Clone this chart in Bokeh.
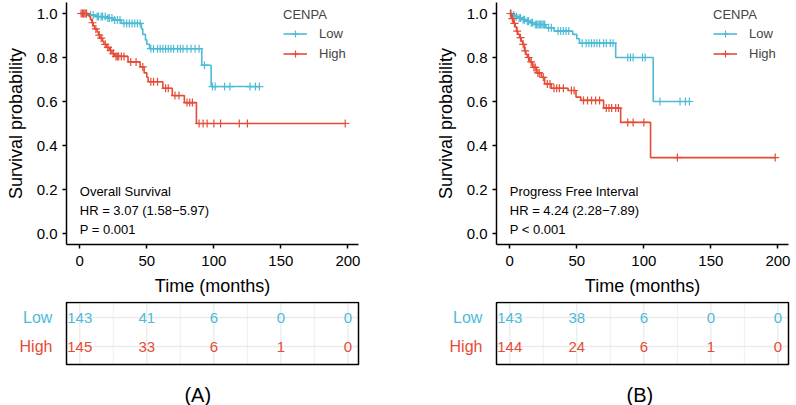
import numpy as np
from bokeh.plotting import figure
from bokeh.layouts import row, column
from bokeh.models import Legend, LegendItem, FixedTicker, PrintfTickFormatter, Range1d
from bokeh.core.properties import value
from bokeh.embed import file_html
from bokeh.resources import INLINE

BLUE = "#4DBBD5"
RED = "#E64B35"
FONT = "Liberation Sans"

groups = ["Low", "High"]
legend_title = "CENPA"

# ---- Overall survival (A) ----
os_low_time = [0, 7, 12, 20, 25, 31, 46, 47, 49, 50, 52, 91, 98, 134]
os_low_surv = [1.0, 0.993, 0.986, 0.979, 0.97, 0.955, 0.93, 0.905, 0.88, 0.86, 0.84, 0.765, 0.668, 0.668]
os_low_cens = [3, 5, 8, 10, 13, 14, 16, 17, 19, 21, 22, 24, 26, 28, 30, 33, 35, 37, 39, 41, 43, 45,
               53, 55, 58, 60, 62, 64, 66, 68, 70, 73, 75, 77, 80, 83, 86, 89, 93, 99, 101, 108, 112,
               127, 131, 134]
os_high_time = [0, 6, 7, 8, 9, 10, 11, 13, 14, 15, 17, 18, 20, 22, 24, 26, 36, 45, 48, 50, 51, 62,
                69, 78, 87, 198]
os_high_surv = [1.0, 0.993, 0.986, 0.972, 0.958, 0.944, 0.93, 0.916, 0.902, 0.888, 0.874, 0.86,
                0.846, 0.832, 0.818, 0.805, 0.78, 0.757, 0.73, 0.71, 0.69, 0.66, 0.627, 0.595, 0.5, 0.5]
os_high_cens = [1, 2, 3, 4, 5, 9.5, 12, 14.5, 16, 19, 21, 23, 25, 27, 28, 29, 31, 33, 38, 42, 47,
                53, 55, 58, 64, 66, 71, 74, 80, 82, 84, 89, 92, 95, 100, 105, 119, 125, 198]
os_notes = ["Overall Survival", "HR = 3.07 (1.58\u22125.97)", "P = 0.001"]
os_risk_low = [143, 41, 6, 0, 0]
os_risk_high = [145, 33, 6, 1, 0]

# ---- Progress free interval (B) ----
pfi_low_time = [0, 2, 4, 6, 9, 12, 15, 18, 27, 33, 47, 50, 52, 79, 107, 134]
pfi_low_surv = [1.0, 0.993, 0.986, 0.979, 0.972, 0.965, 0.958, 0.95, 0.935, 0.92, 0.905, 0.885,
                0.865, 0.80, 0.60, 0.60]
pfi_low_cens = [1, 3, 5, 7, 8, 10, 11, 13, 14, 16, 17, 19, 20, 21, 22, 23, 24, 25, 26, 29, 31, 36,
                38, 40, 42, 44, 54, 57, 59, 61, 63, 65, 67, 70, 72, 75, 77, 88, 90, 92, 99, 101,
                112, 127, 131, 134]
pfi_high_time = [0, 1, 1.5, 2.5, 3, 4, 5, 6, 7.4, 8.5, 9.6, 11, 12, 13, 15, 17, 20, 23.6, 26, 31,
                 43.5, 49.4, 53, 70, 82.7, 105, 198]
pfi_high_surv = [1.0, 0.99, 0.977, 0.966, 0.955, 0.94, 0.92, 0.905, 0.89, 0.875, 0.86, 0.83, 0.815,
                 0.80, 0.78, 0.755, 0.73, 0.71, 0.68, 0.66, 0.65, 0.62, 0.605, 0.57, 0.505, 0.345,
                 0.345]
pfi_high_cens = [0.5, 2, 3.5, 5.5, 8, 10, 11.5, 14, 16, 18, 19, 21, 22, 25, 28, 30, 33, 35, 37, 40,
                 46, 48, 55, 58, 61, 64, 67, 72, 74, 76, 79, 81, 88, 92, 100, 125, 198]
pfi_notes = ["Progress Free Interval", "HR = 4.24 (2.28\u22127.89)", "P < 0.001"]
pfi_risk_low = [143, 38, 6, 0, 0]
pfi_risk_high = [144, 24, 6, 1, 0]

risk_times = [0, 50, 100, 150, 200]
x_ticks = [0, 50, 100, 150, 200]
y_ticks = [0.0, 0.2, 0.4, 0.6, 0.8, 1.0]
note_y = [0.19, 0.105, 0.018]
panel_labels = ["(A)", "(B)"]

# layout constants (pixels)
FRAME_W = 292
FRAME_H = 242
TOP_B = 2
BOTTOM_B = 57
KM_H = TOP_B + FRAME_H + BOTTOM_B
TAB_H = 405 - KM_H
XR = (-9.9, 207.9)
YR = (-0.05, 1.05)
SCALE = FRAME_W / (XR[1] - XR[0])
ROW_PX = 29.0          # pixel spacing between the two risk rows
LOW_ROW_FROM_TOP = 317 - KM_H


def surv_at(times, surv, t):
    idx = np.searchsorted(np.asarray(times), np.asarray(t, dtype=float), side="right") - 1
    return np.asarray(surv)[idx]


def km_fig(curves, notes, bl, br):
    p = figure(width=bl + FRAME_W + br, height=KM_H, x_range=Range1d(*XR), y_range=Range1d(*YR),
               output_backend="svg", toolbar_location=None, frame_align=False,
               min_border_left=bl, min_border_right=br, min_border_top=TOP_B,
               min_border_bottom=BOTTOM_B)
    p.outline_line_color = None
    p.xgrid.visible = False
    p.ygrid.visible = False
    p.background_fill_color = "white"
    p.border_fill_color = "white"
    items = []
    for name, (t, s, c, col) in zip(groups, curves):
        r1 = p.step(x=t, y=s, mode="after", line_color=col, line_width=1.6)
        r2 = p.scatter(x=c, y=surv_at(t, s, c), marker="cross", size=8, line_color=col,
                       line_width=1.2)
        items.append(LegendItem(label=name, renderers=[r1, r2]))
    p.text(x=[0, 0, 0], y=note_y, text=notes, text_font=value(FONT), text_font_size="13px",
           text_baseline="middle", text_align="left", text_color="black")
    leg = Legend(items=items, title=legend_title, location=(217, 182))
    leg.title_text_font = FONT
    leg.title_text_font_size = "13px"
    leg.title_text_font_style = "normal"
    leg.title_standoff = 3
    leg.label_text_font = FONT
    leg.label_text_font_size = "13px"
    leg.padding = 0
    leg.margin = 0
    leg.spacing = 3
    leg.glyph_width = 24
    leg.glyph_height = 17
    leg.label_height = 17
    leg.label_standoff = 12
    leg.border_line_color = None
    leg.background_fill_alpha = 0
    p.add_layout(leg)
    for ax in (p.xaxis, p.yaxis):
        ax.axis_line_width = 1.5
        ax.axis_line_color = "black"
        ax.major_tick_line_width = 1.5
        ax.major_tick_line_color = "black"
        ax.major_tick_out = 4
        ax.major_tick_in = 0
        ax.minor_tick_out = 0
        ax.minor_tick_in = 0
        ax.major_label_text_font = FONT
        ax.major_label_text_font_size = "15px"
        ax.major_label_text_color = "black"
        ax.axis_label_text_font = FONT
        ax.axis_label_text_font_size = "18px"
        ax.axis_label_text_font_style = "normal"
        ax.axis_label_text_color = "black"
    p.xaxis.ticker = FixedTicker(ticks=x_ticks)
    p.yaxis.ticker = FixedTicker(ticks=y_ticks)
    p.yaxis.formatter = PrintfTickFormatter(format="%.1f")
    p.xaxis.axis_label = "Time (months)"
    p.yaxis.axis_label = "Survival probability"
    p.yaxis.major_label_standoff = 5
    p.yaxis.axis_label_standoff = 8
    p.xaxis.major_label_standoff = 7
    p.xaxis.axis_label_standoff = 7
    return p


def table_fig(risk_low, risk_high, bl, br, label, label_x):
    x0 = XR[0] - bl / SCALE
    x1 = XR[1] + br / SCALE
    # rows: Low at y=2, High at y=1
    y1 = 2 + LOW_ROW_FROM_TOP / ROW_PX
    y0 = y1 - TAB_H / ROW_PX
    p = figure(width=bl + FRAME_W + br, height=TAB_H, x_range=Range1d(x0, x1), y_range=Range1d(y0, y1),
               output_backend="svg", toolbar_location=None, x_axis_type=None, y_axis_type=None,
               min_border=0, min_border_left=0, min_border_right=0, min_border_top=0,
               min_border_bottom=0, frame_align=False)
    p.outline_line_color = None
    p.xgrid.visible = False
    p.ygrid.visible = False
    box_b, box_t = 1 - 18 / ROW_PX, y1 - 1.0 / ROW_PX
    minor = np.arange(0, 201, 25)
    for xv in minor:
        major = (xv % 50 == 0)
        p.segment(x0=[xv], y0=[box_b], x1=[xv], y1=[box_t], line_color="#EBEBEB",
                  line_width=1.3 if major else 0.8)
    p.segment(x0=[XR[0], XR[0]], y0=[1, 2], x1=[XR[1], XR[1]], y1=[1, 2], line_color="#EBEBEB",
              line_width=1.3)
    p.quad(left=[XR[0]], right=[XR[1]], bottom=[box_b], top=[box_t], fill_color=None,
           line_color="black", line_width=1.5)
    for yv, vals, col, name in ((2, risk_low, BLUE, groups[0]), (1, risk_high, RED, groups[1])):
        p.text(x=risk_times, y=[yv] * len(risk_times), text=[str(v) for v in vals],
               text_font=value(FONT), text_font_size="15px", text_align="center",
               text_baseline="middle", text_color=col)
        p.text(x=[-20.4], y=[yv], text=[name], text_font=value(FONT), text_font_size="16px",
               text_align="right", text_baseline="middle", text_color=col)
    p.text(x=[label_x], y=[1 - 48 / ROW_PX], text=[label], text_font=value(FONT),
           text_font_size="20px", text_align="center", text_baseline="middle", text_color="black")
    return p


kmA = km_fig([(os_low_time, os_low_surv, os_low_cens, BLUE),
              (os_high_time, os_high_surv, os_high_cens, RED)], os_notes, 66, 40)
kmB = km_fig([(pfi_low_time, pfi_low_surv, pfi_low_cens, BLUE),
              (pfi_high_time, pfi_high_surv, pfi_high_cens, RED)], pfi_notes, 98, 8)
tabA = table_fig(os_risk_low, os_risk_high, 66, 40, panel_labels[0], 88)
tabB = table_fig(pfi_risk_low, pfi_risk_high, 98, 8, panel_labels[1], 97)

layout = row(column(kmA, tabA, spacing=0), column(kmB, tabB, spacing=0), spacing=0)

open("out.html", "w").write(file_html(layout, INLINE))
